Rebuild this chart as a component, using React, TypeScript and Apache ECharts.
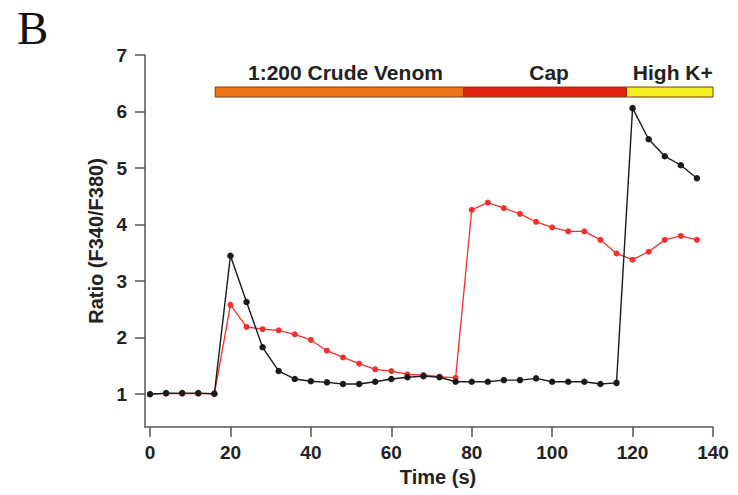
import React, { useEffect, useRef } from "react";
import * as echarts from "echarts";

// Time points (s)
const times: number[] = [
  0, 4, 8, 12, 16, 20, 24, 28, 32, 36, 40, 44, 48, 52, 56, 60, 64, 68, 72, 76,
  80, 84, 88, 92, 96, 100, 104, 108, 112, 116, 120, 124, 128, 132, 136,
];

// Black trace: Ratio (F340/F380)
const blackValues: number[] = [
  1.0, 1.02, 1.02, 1.02, 1.01, 3.45, 2.63, 1.83, 1.41, 1.27, 1.23, 1.21, 1.18,
  1.18, 1.22, 1.27, 1.3, 1.32, 1.3, 1.22, 1.22, 1.22, 1.25, 1.25, 1.28, 1.22,
  1.22, 1.22, 1.18, 1.2, 6.06, 5.51, 5.21, 5.05, 4.82,
];

// Red trace: Ratio (F340/F380)
const redValues: number[] = [
  1.0, 1.01, 1.01, 1.01, 1.0, 2.58, 2.19, 2.15, 2.13, 2.06, 1.96, 1.77, 1.65,
  1.54, 1.44, 1.41, 1.35, 1.34, 1.31, 1.29, 4.26, 4.39, 4.29, 4.19, 4.05, 3.95,
  3.88, 3.88, 3.73, 3.49, 3.38, 3.52, 3.73, 3.8, 3.73,
];

// Treatment periods (s)
const periodLabels: string[] = ["1:200 Crude Venom", "Cap", "High K+"];
const periodStarts: number[] = [16.2, 78, 118.5];
const periodEnds: number[] = [78, 118.5, 140];

// Axis ticks
const xTicks: number[] = [0, 20, 40, 60, 80, 100, 120, 140];
const yTicks: number[] = [1, 2, 3, 4, 5, 6, 7];

const periodColors = ["#f07414", "#e2240e", "#f5ef22"];
const BAR_LEVEL = 6.345;

export default function App() {
  const ref = useRef<HTMLDivElement>(null);

  useEffect(() => {
    if (!ref.current) return;
    const chart = echarts.init(ref.current, undefined, { renderer: "svg" });
    const font = "'Liberation Sans', Arial, sans-serif";

    const periodData = periodLabels.map((l, i) => [periodStarts[i], periodEnds[i], i]);

    chart.setOption({
      animation: false,
      backgroundColor: "#ffffff",
      graphic: [
        {
          type: "text",
          left: 17,
          top: 4,
          style: {
            text: "B",
            font: "47px 'Liberation Serif', 'Times New Roman', serif",
            fill: "#111",
          },
        },
      ],
      grid: {
        left: 145,
        right: 25,
        top: 55,
        bottom: 68,
        containLabel: false,
        outerBoundsMode: "none",
      },
      xAxis: {
        type: "value",
        min: -1.25,
        max: 140,
        name: "Time (s)",
        nameLocation: "middle",
        nameGap: 38,
        nameTextStyle: {
          fontFamily: font,
          fontWeight: "bold",
          fontSize: 20,
          color: "#222",
          padding: [0, 0, 0, 18],
        },
        axisLine: { show: true, onZero: false, lineStyle: { color: "#555", width: 1.5 } },
        axisTick: {
          show: true,
          length: 10,
          customValues: xTicks,
          lineStyle: { color: "#555", width: 1.5 },
        },
        axisLabel: {
          customValues: xTicks,
          margin: 16,
          fontFamily: font,
          fontWeight: "bold",
          fontSize: 19,
          color: "#222",
        },
        splitLine: { show: false },
      },
      yAxis: {
        type: "value",
        min: 0.42,
        max: 7,
        name: "Ratio (F340/F380)",
        nameLocation: "middle",
        nameGap: 39,
        nameTextStyle: {
          fontFamily: font,
          fontWeight: "bold",
          fontSize: 20,
          color: "#222",
        },
        axisLine: { show: true, onZero: false, lineStyle: { color: "#555", width: 1.5 } },
        axisTick: {
          show: true,
          length: 10,
          customValues: yTicks,
          lineStyle: { color: "#555", width: 1.5 },
        },
        axisLabel: {
          customValues: yTicks,
          margin: 18,
          fontFamily: font,
          fontWeight: "bold",
          fontSize: 19,
          color: "#222",
        },
        splitLine: { show: false },
      },
      series: [
        {
          type: "line",
          name: "red",
          data: times.map((t, i) => [t, redValues[i]]),
          symbol: "circle",
          symbolSize: 6,
          showSymbol: true,
          lineStyle: { color: "#f2302c", width: 1.3 },
          itemStyle: { color: "#f2302c" },
          z: 2,
        },
        {
          type: "line",
          name: "black",
          data: times.map((t, i) => [t, blackValues[i]]),
          symbol: "circle",
          symbolSize: 6.5,
          showSymbol: true,
          lineStyle: { color: "#1a1a1a", width: 1.4 },
          itemStyle: { color: "#1a1a1a" },
          z: 3,
        },
        {
          type: "custom",
          name: "periods",
          data: periodData,
          clip: false,
          z: 4,
          renderItem: (params: any, api: any) => {
            const s = api.value(0);
            const e = api.value(1);
            const idx = api.value(2);
            const p0 = api.coord([s, BAR_LEVEL]);
            const p1 = api.coord([e, BAR_LEVEL]);
            const h = 10;
            return {
              type: "group",
              children: [
                {
                  type: "rect",
                  shape: { x: p0[0], y: p0[1] - h / 2, width: p1[0] - p0[0], height: h },
                  style: { fill: periodColors[idx], stroke: "#7a3a1a", lineWidth: 1 },
                },
                {
                  type: "text",
                  x: (p0[0] + p1[0]) / 2 + (idx === 0 ? 6 : idx === 1 ? 4 : 3),
                  y: p0[1] - h / 2 - 4,
                  style: {
                    text: periodLabels[idx],
                    font: `bold 21px ${font}`,
                    fill: "#222",
                    textAlign: "center",
                    textVerticalAlign: "bottom",
                  },
                },
              ],
            };
          },
        },
      ],
    });

    return () => {
      chart.dispose();
    };
  }, []);

  return (
    <div
      ref={ref}
      style={{ position: "fixed", left: 0, top: 0, width: 738, height: 495 }}
    />
  );
}
